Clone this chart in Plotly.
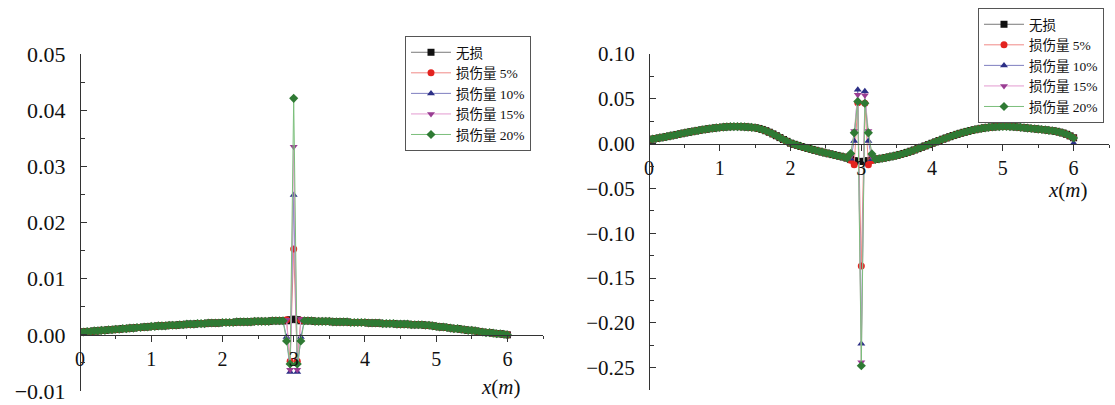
import plotly.graph_objects as go

# ---------------- data ----------------
x_grid = [round(0.05 * i, 2) for i in range(121)]  # measurement stations, 0 ... 6 m

series_names = ["无损", "损伤量 5%", "损伤量 10%", "损伤量 15%", "损伤量 20%"]

# left chart: common curve (undamaged)
left_base = [
    0.0005, 0.0005, 0.0006, 0.0006, 0.0007, 0.0007, 0.0008, 0.0008, 0.0009, 0.0009,
    0.0010, 0.0010, 0.0011, 0.0011, 0.0012, 0.0012, 0.0013, 0.0013, 0.0014, 0.0014,
    0.0015, 0.0015, 0.0016, 0.0016, 0.0016, 0.0017, 0.0017, 0.0017, 0.0018, 0.0018,
    0.0019, 0.0019, 0.0019, 0.0020, 0.0020, 0.0020, 0.0021, 0.0021, 0.0021, 0.0021,
    0.0022, 0.0022, 0.0022, 0.0022, 0.0023, 0.0023, 0.0023, 0.0023, 0.0023, 0.0024,
    0.0024, 0.0024, 0.0024, 0.0024, 0.0025, 0.0025, 0.0025, 0.0025, 0.0025, 0.0025,
    0.0026, 0.0025, 0.0025, 0.0025, 0.0025, 0.0025, 0.0024, 0.0024, 0.0024, 0.0024,
    0.0024, 0.0023, 0.0023, 0.0023, 0.0023, 0.0023, 0.0022, 0.0022, 0.0022, 0.0022,
    0.0022, 0.0021, 0.0021, 0.0021, 0.0021, 0.0020, 0.0020, 0.0020, 0.0020, 0.0019,
    0.0019, 0.0019, 0.0019, 0.0018, 0.0018, 0.0018, 0.0018, 0.0017, 0.0017, 0.0016,
    0.0015, 0.0014, 0.0014, 0.0013, 0.0012, 0.0011, 0.0011, 0.0010, 0.0009, 0.0008,
    0.0008, 0.0007, 0.0006, 0.0005, 0.0004, 0.0004, 0.0003, 0.0002, 0.0002, 0.0001,
    0.0000,
]
left_spike_x = [2.9, 2.95, 3.0, 3.05, 3.1]
left_spike = {
    "无损":       [0.0025, 0.0027, 0.0028, 0.0027, 0.0025],
    "损伤量 5%":  [0.0027, -0.0047, 0.0153, -0.0047, 0.0026],
    "损伤量 10%": [-0.0004, -0.0066, 0.0249, -0.0066, -0.0004],
    "损伤量 15%": [0.0027, -0.0062, 0.0335, -0.0062, 0.0028],
    "损伤量 20%": [-0.0011, -0.0052, 0.0421, -0.0052, -0.0011],
}

# right chart: common curve
right_base = [
    0.0045, 0.0050, 0.0057, 0.0064, 0.0071, 0.0078, 0.0086, 0.0094, 0.0102, 0.0110,
    0.0118, 0.0126, 0.0133, 0.0140, 0.0147, 0.0154, 0.0160, 0.0166, 0.0171, 0.0176,
    0.0180, 0.0184, 0.0187, 0.0189, 0.0190, 0.0190, 0.0189, 0.0187, 0.0184, 0.0181,
    0.0177, 0.0169, 0.0158, 0.0144, 0.0127, 0.0108, 0.0088, 0.0067, 0.0046, 0.0025,
    0.0005, -0.0008, -0.0020, -0.0032, -0.0043, -0.0054, -0.0065, -0.0075, -0.0085, -0.0095,
    -0.0105, -0.0114, -0.0123, -0.0132, -0.0141, -0.0150, -0.0162, -0.0178, -0.0190, -0.0198,
    -0.0200, -0.0197, -0.0190, -0.0182, -0.0176, -0.0170, -0.0163, -0.0156, -0.0148, -0.0140,
    -0.0131, -0.0121, -0.0110, -0.0098, -0.0085, -0.0071, -0.0056, -0.0041, -0.0026, -0.0011,
    0.0004, 0.0019, 0.0034, 0.0049, 0.0063, 0.0077, 0.0090, 0.0103, 0.0115, 0.0126,
    0.0136, 0.0146, 0.0155, 0.0163, 0.0170, 0.0176, 0.0181, 0.0185, 0.0188, 0.0190,
    0.0191, 0.0191, 0.0190, 0.0188, 0.0185, 0.0181, 0.0177, 0.0173, 0.0169, 0.0165,
    0.0161, 0.0157, 0.0153, 0.0148, 0.0143, 0.0137, 0.0128, 0.0118, 0.0104, 0.0086,
    0.0065,
]
right_spike_x = [2.85, 2.9, 2.95, 3.0, 3.05, 3.1, 3.15, 6.0]
right_spike = {
    "无损":       [-0.0178, -0.0190, -0.0198, -0.0200, -0.0197, -0.0190, -0.0182, 0.0065],
    "损伤量 5%":  [-0.0185, -0.0235, 0.0455, -0.1365, 0.0450, -0.0235, -0.0190, 0.0065],
    "损伤量 10%": [-0.0170, 0.0030, 0.0600, -0.2235, 0.0585, 0.0030, -0.0175, 0.0005],
    "损伤量 15%": [-0.0140, 0.0140, 0.0545, -0.2440, 0.0540, 0.0140, -0.0150, 0.0060],
    "损伤量 20%": [-0.0110, 0.0120, 0.0470, -0.2480, 0.0450, 0.0120, -0.0115, 0.0062],
}

left_yticks = [-0.01, 0.0, 0.01, 0.02, 0.03, 0.04, 0.05]
right_yticks = [-0.25, -0.20, -0.15, -0.10, -0.05, 0.0, 0.05, 0.10]
x_ticks = [0, 1, 2, 3, 4, 5, 6]
x_ticktext = ["0", "1", "2", "3", "4", "5", "6"]

# ---------------- styles ----------------
marker_colors = ["#111111", "#e3231f", "#2c2f86", "#9a3d93", "#2f7a34"]
line_colors = ["#7a7a7a", "#f08a86", "#7f7fc0", "#e39bd0", "#7cbf7c"]
symbols = ["square", "circle", "triangle-up", "triangle-down", "diamond"]
SERIF = "'Liberation Serif', 'Times New Roman', 'Noto Sans CJK SC', serif"
AXC = "#333333"


def build(base, xs, vals):
    y = list(base)
    idx = {v: i for i, v in enumerate(x_grid)}
    for xv, v in zip(xs, vals):
        y[idx[round(xv, 2)]] = v
    return y


fig = go.Figure()
for k, name in enumerate(series_names):
    fig.add_trace(go.Scatter(
        x=x_grid, y=build(left_base, left_spike_x, left_spike[name]),
        mode="lines+markers", name=name, xaxis="x", yaxis="y", legend="legend",
        line=dict(color=line_colors[k], width=1),
        marker=dict(symbol=symbols[k], color=marker_colors[k], size=7, line=dict(width=0)),
    ))
for k, name in enumerate(series_names):
    fig.add_trace(go.Scatter(
        x=x_grid, y=build(right_base, right_spike_x, right_spike[name]),
        mode="lines+markers", name=name, xaxis="x2", yaxis="y2", legend="legend2",
        line=dict(color=line_colors[k], width=1),
        marker=dict(symbol=symbols[k], color=marker_colors[k], size=7, line=dict(width=0)),
    ))

W, H = 1115, 405
L_X0, L_X1 = 80 / W, 543 / W
L_Y0, L_Y1 = (H - 391) / H, (H - 54) / H
L_ZERO = (H - 335) / H
R_X0, R_X1 = 649 / W, 1109 / W
R_Y0, R_Y1 = (H - 390) / H, (H - 54) / H
R_ZERO = (H - 143.5) / H


def xaxis_cfg(domain, pos):
    return dict(
        domain=domain, range=[0, 6.5], anchor="free", position=pos, automargin=False,
        showline=True, linecolor=AXC, linewidth=1,
        ticks="outside", ticklen=6, tickwidth=1, tickcolor=AXC,
        tickvals=x_ticks, ticktext=x_ticktext,
        minor=dict(tickvals=[0.5, 1.5, 2.5, 3.5, 4.5, 5.5, 6.5], ticks="outside",
                   ticklen=3, tickcolor=AXC),
        tickfont=dict(family=SERIF, size=20, color="#111"),
        ticklabelstandoff=0,
        showgrid=False, zeroline=False, fixedrange=True,
    )


def yaxis_cfg(domain, pos, rng, ticks, minor_ticks, size):
    return dict(
        domain=domain, range=rng, anchor="free", position=pos, automargin=False,
        showline=True, linecolor=AXC, linewidth=1,
        ticks="inside", ticklen=6, tickwidth=1, tickcolor=AXC,
        tickvals=ticks, tickformat=".2f",
        minor=dict(tickvals=minor_ticks, ticks="inside", ticklen=4, tickcolor=AXC),
        tickfont=dict(family=SERIF, size=size, color="#111"),
        ticklabelstandoff=10,
        showgrid=False, zeroline=False, fixedrange=True,
    )


left_minor = [-0.005, 0.005, 0.015, 0.025, 0.035, 0.045]
right_minor = [-0.275, -0.225, -0.175, -0.125, -0.075, -0.025, 0.025, 0.075]

legend_common = dict(
    xanchor="left", yanchor="top", bgcolor="white", bordercolor="#555",
    borderwidth=1, font=dict(family=SERIF, size=13.5, color="#111"),
    tracegroupgap=0, itemwidth=40,
)

fig.update_layout(
    template="none",
    width=W, height=H, autosize=False,
    margin=dict(l=0, r=0, t=0, b=0, autoexpand=False),
    paper_bgcolor="white", plot_bgcolor="white",
    font=dict(family=SERIF, color="#111"),
    xaxis=xaxis_cfg([L_X0, L_X1], L_ZERO),
    yaxis=yaxis_cfg([L_Y0, L_Y1], L_X0, [-0.01, 0.05], left_yticks, left_minor, 22),
    xaxis2=xaxis_cfg([R_X0, R_X1], R_ZERO),
    yaxis2=yaxis_cfg([R_Y0, R_Y1], R_X0, [-0.275, 0.10], right_yticks, right_minor, 21),
    legend=dict(x=405 / W, y=(H - 36) / H, **legend_common),
    legend2=dict(x=978 / W, y=(H - 8) / H, **legend_common),
    showlegend=True,
    annotations=[
        dict(text="<i>x</i>(<i>m</i>)", x=501 / W, y=(H - 387) / H, xref="paper", yref="paper",
             xanchor="center", yanchor="middle",
             showarrow=False, font=dict(family=SERIF, size=21, color="#111")),
        dict(text="<i>x</i>(<i>m</i>)", x=1068 / W, y=(H - 190) / H, xref="paper", yref="paper",
             xanchor="center", yanchor="middle",
             showarrow=False, font=dict(family=SERIF, size=21, color="#111")),
    ],
)

fig.write_html("out.html")
